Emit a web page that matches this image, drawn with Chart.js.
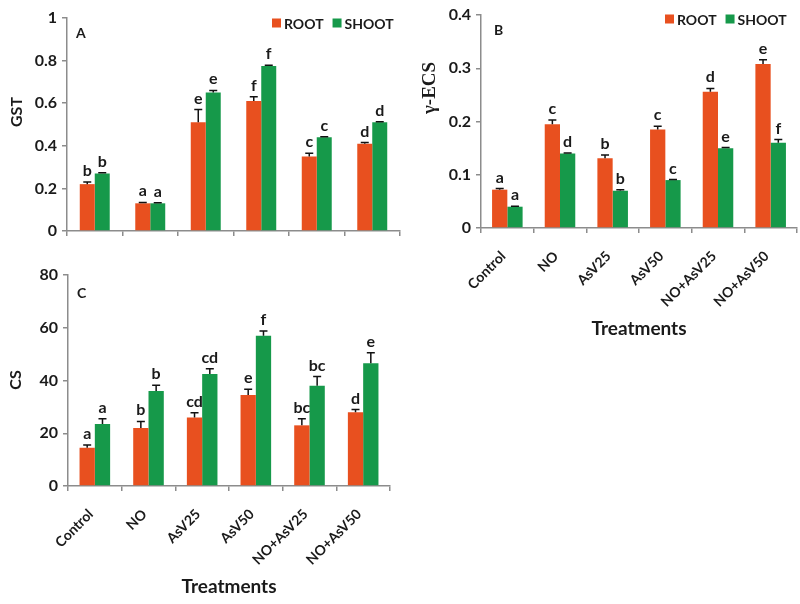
<!DOCTYPE html>
<html><head><meta charset="utf-8">
<script src="https://cdn.jsdelivr.net/npm/chart.js@4.4.0/dist/chart.umd.min.js"></script>
<style>
html,body{margin:0;padding:0;background:#fff;width:800px;height:604px;overflow:hidden}
.box{position:absolute}
canvas{display:block}
</style></head><body>
<div class="box" style="left:0;top:0"><canvas id="cA" width="405" height="250"></canvas></div>
<div class="box" style="left:420px;top:0"><canvas id="cB" width="380" height="345"></canvas></div>
<div class="box" style="left:0;top:258px"><canvas id="cC" width="400" height="346"></canvas></div>
<script>
// ---- data ----
const categories = ['Control', 'NO', 'AsV25', 'AsV50', 'NO+AsV25', 'NO+AsV50'];
const seriesNames = ['ROOT', 'SHOOT'];

const gstRoot       = [0.22, 0.13, 0.51, 0.61, 0.35, 0.41];
const gstRootErr    = [0.010, 0.004, 0.060, 0.020, 0.015, 0.005];
const gstRootLet    = ['b', 'a', 'e', 'f', 'c', 'd'];
const gstShoot      = [0.27, 0.13, 0.65, 0.775, 0.44, 0.51];
const gstShootErr   = [0.003, 0.003, 0.010, 0.003, 0.002, 0.003];
const gstShootLet   = ['b', 'a', 'e', 'f', 'c', 'd'];

const ecsRoot       = [0.072, 0.195, 0.131, 0.185, 0.256, 0.308];
const ecsRootErr    = [0.002, 0.008, 0.006, 0.006, 0.006, 0.008];
const ecsRootLet    = ['a', 'c', 'b', 'c', 'd', 'e'];
const ecsShoot      = [0.040, 0.140, 0.070, 0.090, 0.150, 0.160];
const ecsShootErr   = [0.001, 0.001, 0.002, 0.001, 0.001, 0.006];
const ecsShootLet   = ['a', 'd', 'b', 'c', 'e', 'f'];

const csRoot        = [14.5, 22, 26, 34.5, 23, 28];
const csRootErr     = [1.0, 2.5, 1.8, 2.2, 2.5, 1.0];
const csRootLet     = ['a', 'b', 'cd', 'e', 'bc', 'd'];
const csShoot       = [23.5, 36, 42.5, 57, 38, 46.5];
const csShootErr    = [2.0, 2.2, 2.0, 1.8, 3.5, 4.0];
const csShootLet    = ['a', 'b', 'cd', 'f', 'bc', 'e'];

const gstTicks = [0, 0.2, 0.4, 0.6, 0.8, 1];
const ecsTicks = [0, 0.1, 0.2, 0.3, 0.4];
const csTicks  = [0, 20, 40, 60, 80];

// ---- style ----
const ORANGE = '#E8501F';
const GREEN = '#16994A';
const AXIS = '#8c8c8c';
const TXT = '#1a1a1a';
const FONT = 'Lato';

function ds(label, data, errors, letters, color) {
  return { label, data, errors, letters, backgroundColor: color, borderWidth: 0 };
}

const annotPlugin = {
  id: 'annot',
  afterDatasetsDraw(chart) {
    const ctx = chart.ctx, y = chart.scales.y;
    chart.data.datasets.forEach((d, di) => {
      const meta = chart.getDatasetMeta(di);
      meta.data.forEach((bar, i) => {
        const yTop = y.getPixelForValue(d.data[i] + d.errors[i]);
        ctx.save();
        ctx.strokeStyle = '#111';
        ctx.lineWidth = 1.5;
        ctx.beginPath();
        ctx.moveTo(bar.x, bar.y);
        ctx.lineTo(bar.x, yTop);
        ctx.moveTo(bar.x - 4, yTop);
        ctx.lineTo(bar.x + 4, yTop);
        ctx.stroke();
        ctx.fillStyle = TXT;
        ctx.font = 'bold 16px ' + FONT;
        ctx.textAlign = 'center';
        ctx.textBaseline = 'alphabetic';
        ctx.fillText(d.letters[i], bar.x, yTop - 6);
        ctx.restore();
      });
    });
  }
};

const decoPlugin = {
  id: 'deco',
  afterDraw(chart, args, o) {
    const ctx = chart.ctx;
    ctx.save();
    ctx.fillStyle = TXT;
    // panel letter
    ctx.font = 'bold 14px ' + FONT;
    ctx.textAlign = 'left';
    ctx.textBaseline = 'middle';
    ctx.fillText(o.panel, o.panelX, o.panelY);
    // y title
    ctx.save();
    ctx.translate(o.titleX, o.titleY);
    ctx.rotate(-Math.PI / 2);
    ctx.font = o.titleFont;
    ctx.textAlign = 'center';
    ctx.textBaseline = 'middle';
    ctx.fillText(o.title, 0, 0);
    ctx.restore();
    // legend
    if (o.legendX !== undefined) {
      let x = o.legendX;
      const yy = o.legendY;
      ctx.font = 'bold 14px ' + FONT;
      chart.data.datasets.forEach(d => {
        ctx.fillStyle = d.backgroundColor;
        ctx.fillRect(x, yy - 4.5, 9, 9);
        x += 12;
        ctx.fillStyle = TXT;
        ctx.textBaseline = 'middle';
        ctx.fillText(d.label, x, yy + 1);
        x += ctx.measureText(d.label).width + 9;
      });
    }
    ctx.restore();
  }
};

function makeChart(id, cfg) {
  const showX = cfg.showX;
  return new Chart(document.getElementById(id), {
    type: 'bar',
    data: {
      labels: categories,
      datasets: [
        ds(seriesNames[0], cfg.root, cfg.rootErr, cfg.rootLet, ORANGE),
        ds(seriesNames[1], cfg.shoot, cfg.shootErr, cfg.shootLet, GREEN)
      ]
    },
    options: {
      responsive: false,
      animation: false,
      devicePixelRatio: 1,
      layout: { padding: cfg.padding },
      datasets: { bar: { categoryPercentage: cfg.catPct, barPercentage: 1.0 } },
      plugins: {
        legend: { display: false },
        tooltip: { enabled: false },
        deco: cfg.deco
      },
      scales: {
        x: {
          afterFit(s) { s.height = cfg.xHeight; },
          grid: { offset: true, drawOnChartArea: false, drawTicks: true, tickLength: 5, color: AXIS, lineWidth: 1.5 },
          border: { color: AXIS, width: 1.5 },
          ticks: {
            display: showX, autoSkip: false, maxRotation: 45, minRotation: 45, padding: 15, labelOffset: -4,
            color: TXT, font: { family: FONT, weight: 'bold', size: 14 }
          },
          title: {
            display: showX, text: 'Treatments', color: TXT,
            font: { family: FONT, weight: 'bold', size: 19 },
            padding: { top: 0, bottom: cfg.titlePad }
          }
        },
        y: {
          min: cfg.ticks[0], max: cfg.ticks[cfg.ticks.length - 1],
          afterFit(s) { s.width = cfg.yWidth; },
          afterBuildTicks(s) { s.ticks = cfg.ticks.map(v => ({ value: v })); },
          grid: { drawOnChartArea: false, drawTicks: true, tickLength: 5, color: AXIS, lineWidth: 1.5 },
          border: { color: AXIS, width: 1.5 },
          ticks: {
            padding: 5, color: TXT, font: { family: FONT, weight: 'bold', size: 16 },
            callback: v => String(v)
          }
        }
      }
    },
    plugins: [annotPlugin, decoPlugin]
  });
}

makeChart('cA', {
  root: gstRoot, rootErr: gstRootErr, rootLet: gstRootLet,
  shoot: gstShoot, shootErr: gstShootErr, shootLet: gstShootLet,
  ticks: gstTicks, showX: false, catPct: 0.54,
  padding: { top: 18, right: 5, left: 0, bottom: 0 },
  yWidth: 67, xHeight: 19, titlePad: 0,
  deco: { panel: 'A', panelX: 76, panelY: 33, title: 'GST', titleFont: 'bold 16px ' + FONT,
          titleX: 17, titleY: 112, legendX: 272, legendY: 23 }
});

makeChart('cB', {
  root: ecsRoot, rootErr: ecsRootErr, rootLet: ecsRootLet,
  shoot: ecsShoot, shootErr: ecsShootErr, shootLet: ecsShootLet,
  ticks: ecsTicks, showX: true, catPct: 0.58,
  padding: { top: 15, right: 3, left: 0, bottom: 0 },
  yWidth: 61, xHeight: 117, titlePad: 5,
  deco: { panel: 'B', panelX: 74, panelY: 30, title: 'γ-ECS', titleFont: 'bold 19px "Liberation Serif"',
          titleX: 10, titleY: 88, legendX: 245, legendY: 19 }
});

makeChart('cC', {
  root: csRoot, rootErr: csRootErr, rootLet: csRootLet,
  shoot: csShoot, shootErr: csShootErr, shootLet: csShootLet,
  ticks: csTicks, showX: true, catPct: 0.57,
  padding: { top: 17, right: 10, left: 0, bottom: 0 },
  yWidth: 68, xHeight: 118, titlePad: 6,
  deco: { panel: 'C', panelX: 77, panelY: 35, title: 'CS', titleFont: 'bold 16px ' + FONT,
          titleX: 16, titleY: 122 }
});
</script>
</body></html>
